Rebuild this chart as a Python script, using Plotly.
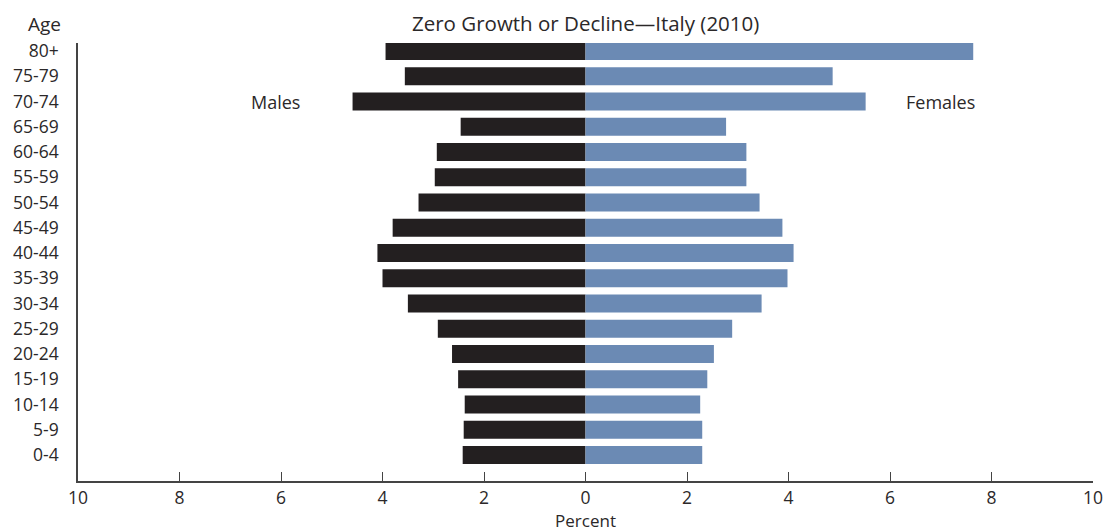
import plotly.graph_objects as go

ages = ["0-4", "5-9", "10-14", "15-19", "20-24", "25-29", "30-34", "35-39",
        "40-44", "45-49", "50-54", "55-59", "60-64", "65-69", "70-74", "75-79", "80+"]
males = [2.42, 2.40, 2.38, 2.51, 2.63, 2.91, 3.50, 4.00,
         4.10, 3.80, 3.29, 2.97, 2.93, 2.46, 4.59, 3.56, 3.94]
females = [2.30, 2.30, 2.26, 2.40, 2.53, 2.89, 3.47, 3.98,
           4.10, 3.88, 3.43, 3.17, 3.17, 2.77, 5.52, 4.87, 7.64]
tick_vals = [-10, -8, -6, -4, -2, 0, 2, 4, 6, 8, 10]
tick_text = ["10", "8", "6", "4", "2", "0", "2", "4", "6", "8", "10"]

TXT = "#2b2829"
FONT = "Open Sans"
FS = 17.5

fig = go.Figure()
fig.add_trace(go.Bar(y=ages, x=[-m for m in males], orientation="h",
                     marker=dict(color="#231f20", line=dict(width=0)),
                     width=0.71, name="Males"))
fig.add_trace(go.Bar(y=ages, x=females, orientation="h",
                     marker=dict(color="#6b8ab4", line=dict(width=0)),
                     width=0.71, name="Females"))

fig.update_layout(
    width=1113, height=531,
    margin=dict(l=70, r=28, t=35, b=58, autoexpand=False),
    barmode="overlay",
    showlegend=False,
    plot_bgcolor="white", paper_bgcolor="white",
    font=dict(family=FONT, size=FS, color=TXT),
    xaxis=dict(range=[-10, 10], tickvals=tick_vals, ticktext=tick_text,
               ticks="inside", ticklen=9, tickcolor="#444", tickwidth=1.3,
               showline=True, linecolor="#444", linewidth=1.5,
               showgrid=False, zeroline=False, automargin=False,
               tickfont=dict(size=FS, color=TXT),
               title=dict(text="Percent", font=dict(size=17, color=TXT), standoff=2)),
    yaxis=dict(categoryorder="array", categoryarray=ages,
               range=[-1.03, 16.32], automargin=False,
               showline=True, linecolor="#444", linewidth=1.5,
               showgrid=False, zeroline=False, ticks="",
               ticklabelstandoff=14,
               tickfont=dict(size=FS, color=TXT)),
)
fig.add_annotation(text="Zero Growth or Decline\u2014Italy (2010)", x=0, xref="x",
                   y=1.0, yref="paper", yanchor="bottom", yshift=5, showarrow=False,
                   borderpad=0, font=dict(size=20.5, color=TXT))
fig.add_annotation(text="Age", x=0, xref="paper", xanchor="right", xshift=-16,
                   y=1.0, yref="paper", yanchor="bottom", yshift=5, showarrow=False,
                   borderpad=0, font=dict(size=19, color=TXT))
fig.add_annotation(text="Males", x=-6.1, xref="x", y="70-74", yref="y",
                   showarrow=False, font=dict(size=18, color=TXT))
fig.add_annotation(text="Females", x=7.0, xref="x", y="70-74", yref="y",
                   showarrow=False, font=dict(size=18, color=TXT))

fig.write_html("out.html")
